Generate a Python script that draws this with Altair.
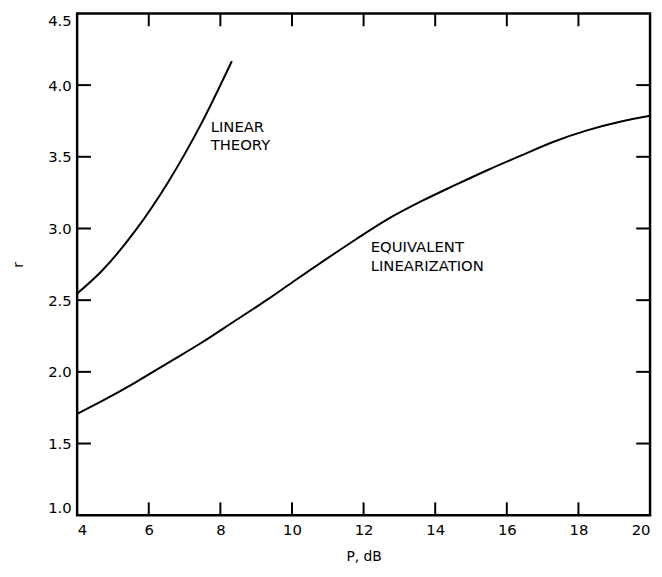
import altair as alt
import pandas as pd

# Linear theory curve (P in dB, r)
lin_p = [4.0, 4.70, 5.62, 6.54, 7.46, 8.32]
lin_r = [2.546, 2.707, 2.983, 3.323, 3.728, 4.167]

# Equivalent linearization curve
eq_p = [4.0, 4.70, 5.62, 6.54, 7.46, 8.38, 9.30, 10.04, 11.79, 12.71, 13.63,
        14.55, 15.47, 16.39, 17.31, 18.24, 19.16, 20.0]
eq_r = [1.707, 1.797, 1.925, 2.063, 2.201, 2.351, 2.502, 2.630, 2.925, 3.070,
        3.192, 3.302, 3.408, 3.508, 3.605, 3.684, 3.744, 3.786]

x_ticks = [4, 6, 8, 10, 12, 14, 16, 18, 20]
y_ticks = [1.0, 1.5, 2.0, 2.5, 3.0, 3.5, 4.0, 4.5]
x_inner = [6, 8, 10, 12, 14, 16, 18]
y_inner = [1.5, 2.0, 2.5, 3.0, 3.5, 4.0]

ann_text = ["LINEAR", "THEORY", "EQUIVALENT", "LINEARIZATION"]
ann_p = [7.73, 7.73, 12.2, 12.2]
ann_r = [3.71, 3.585, 2.87, 2.735]

W, H = 580, 508
FONT = "DejaVu Sans"

lin_df = pd.DataFrame({"P": lin_p, "r": lin_r})
eq_df = pd.DataFrame({"P": eq_p, "r": eq_r})
ann_df = pd.DataFrame({"text": ann_text, "P": ann_p, "r": ann_r})
xt_df = pd.DataFrame({"P": x_inner})
yt_df = pd.DataFrame({"r": y_inner})

xs = alt.Scale(domain=[4, 20], nice=False, zero=False)
ys = alt.Scale(domain=[1.0, 4.5], nice=False, zero=False)

xax = alt.Axis(values=x_ticks, format="d", tickSize=0, domain=False, grid=False,
               labelFlush=True, labelPadding=8, labelFontSize=15, labelFont=FONT,
               labelColor="black", title="P, dB", titleFont=FONT, titleFontSize=14,
               titleFontWeight="normal", titleColor="black", titlePadding=12)
yax = alt.Axis(values=y_ticks, format=".1f", tickSize=0, domain=False, grid=False,
               labelFlush=True, labelPadding=6, labelFontSize=15, labelFont=FONT,
               labelColor="black", title="r", titleFont=FONT, titleFontSize=14,
               titleFontWeight="normal", titleColor="black", titlePadding=22)

base_x = alt.X("P:Q", scale=xs, axis=xax)
base_y = alt.Y("r:Q", scale=ys, axis=yax)

lin = alt.Chart(lin_df).mark_line(color="black", strokeWidth=2, interpolate="monotone").encode(
    x=base_x, y=base_y)
eq = alt.Chart(eq_df).mark_line(color="black", strokeWidth=2, interpolate="monotone").encode(
    x=alt.X("P:Q", scale=xs), y=alt.Y("r:Q", scale=ys))

ann = alt.Chart(ann_df).mark_text(align="left", baseline="middle", font=FONT,
                                  fontSize=15, color="black").encode(
    x=alt.X("P:Q", scale=xs), y=alt.Y("r:Q", scale=ys), text="text:N")

tb = alt.Chart(xt_df).mark_rule(color="black", strokeWidth=2).encode(
    x=alt.X("P:Q", scale=xs), y=alt.value(H), y2=alt.value(H - 13))
tt = alt.Chart(xt_df).mark_rule(color="black", strokeWidth=2).encode(
    x=alt.X("P:Q", scale=xs), y=alt.value(0), y2=alt.value(13))
tl = alt.Chart(yt_df).mark_rule(color="black", strokeWidth=2).encode(
    y=alt.Y("r:Q", scale=ys), x=alt.value(0), x2=alt.value(14))
tr = alt.Chart(yt_df).mark_rule(color="black", strokeWidth=2).encode(
    y=alt.Y("r:Q", scale=ys), x=alt.value(W), x2=alt.value(W - 14))

chart = alt.layer(lin, eq, ann, tb, tt, tl, tr).properties(
    width=W, height=H,
    background="white",
    autosize=alt.AutoSizeParams(type="none"),
    padding={"left": 70, "top": 2, "right": 4, "bottom": 55},
).configure_view(stroke="black", strokeWidth=2.5)

chart.save("out.html", embed_options={"renderer": "svg", "actions": False})
